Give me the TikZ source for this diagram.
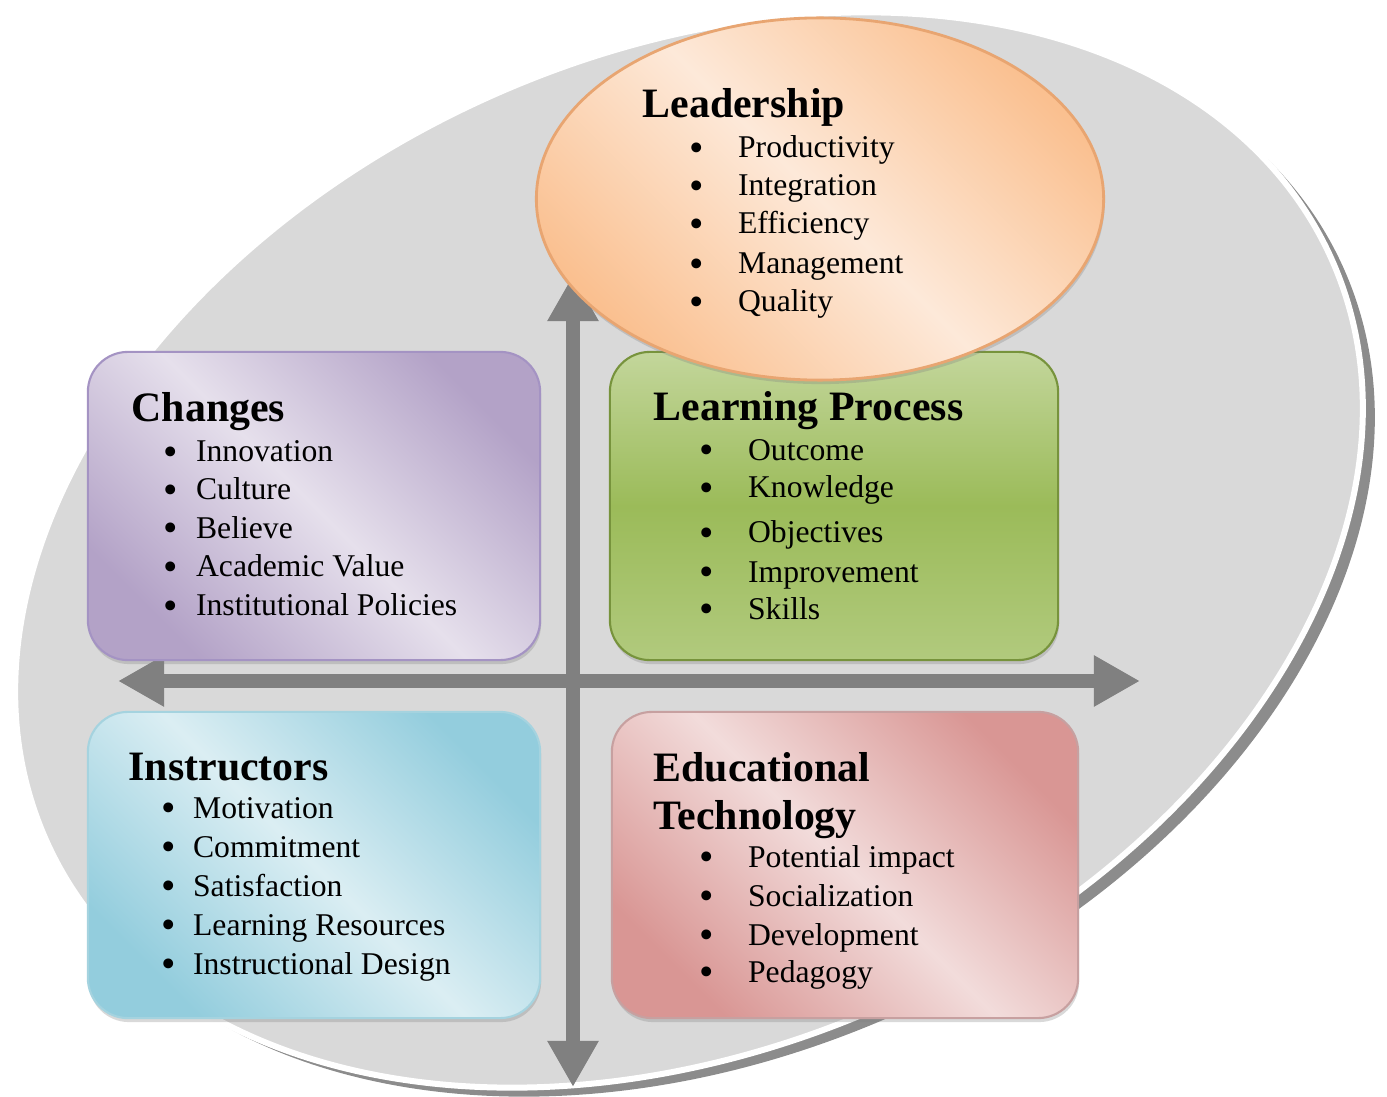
\documentclass[tikz,border=0pt]{standalone}
\usepackage{fontspec}
\setmainfont{Liberation Serif}
\usepackage{tikz}
\usetikzlibrary{arrows.meta}
\usetikzlibrary{shapes.geometric}
\usetikzlibrary{shadows}

\definecolor{bggray}{HTML}{D9D9D9}
\definecolor{rimgray}{HTML}{8C8C8C}
\definecolor{axisgray}{HTML}{808080}
\definecolor{purpleDark}{HTML}{B3A2C7}
\definecolor{purpleLight}{HTML}{E6E0EC}
\definecolor{purpleLine}{HTML}{A493C3}
\definecolor{greenTop}{HTML}{C3D69B}
\definecolor{greenBottom}{HTML}{9BBB59}
\definecolor{greenLine}{HTML}{77933C}
\definecolor{blueDark}{HTML}{93CDDD}
\definecolor{blueLight}{HTML}{DBEEF3}
\definecolor{blueLine}{HTML}{A5D3DF}
\definecolor{redDark}{HTML}{D99694}
\definecolor{redLight}{HTML}{F2DCDB}
\definecolor{redLine}{HTML}{C7A0A0}
\definecolor{orangeDark}{HTML}{FAC090}
\definecolor{orangeLight}{HTML}{FDE9D9}
\definecolor{orangeLine}{HTML}{E8A571}

\newcommand{\listbullet}{\raisebox{-0.12em}{\scalebox{1.3}{\textbullet}}}

\begin{document}
\begin{tikzpicture}[x=0.01cm,y=-0.01cm,
        box/.style={rectangle,rounded corners=0.4cm,line width=0.6pt,inner sep=0pt,
            drop shadow={shadow xshift=0.01cm,shadow yshift=-0.04cm,opacity=0.3}},
        headtxt/.style={anchor=base west,inner sep=0pt,font=\fontsize{11.9}{14}\selectfont\bfseries},
        listitem/.style={anchor=base west,inner sep=0pt,font=\fontsize{9}{11}\selectfont},
        axisarrow/.style={axisgray,line width=0.14cm,
            {Triangle[length=0.46cm,width=0.48cm]}-{Triangle[length=0.46cm,width=0.48cm]}}]
                \useasboundingbox (0,0) rectangle (1387,1097);

                % background disc with its rim
                \fill[rimgray,rotate around={24.6:(701,559)}] (701,559) ellipse [x radius=7.05cm,y radius=4.95cm];
                \filldraw[fill=bggray,draw=white,line width=0.06cm,rotate around={24.6:(689,550)}]
                    (689,550) ellipse [x radius=7.05cm,y radius=4.95cm];

                % the two axes
                \coordinate (axisL) at (118,681);
                \coordinate (axisR) at (1140,681);
                \coordinate (axisT) at (573,275);
                \coordinate (axisB) at (573,1087);
                \draw[axisarrow] (axisL) -- (axisR);
                \draw[axisarrow] (axisT) -- (axisB);

                % the four boxes
                \node[box,minimum width=4.52cm,minimum height=3.08cm,draw=purpleLine,
                    top color=purpleDark,bottom color=purpleDark,middle color=purpleLight,shading angle=-45]
                    (changes) at (314,506) {};
                \node[box,minimum width=4.48cm,minimum height=3.08cm,draw=greenLine,
                    top color=greenTop,bottom color=greenTop!55!greenBottom,middle color=greenBottom]
                    (learning) at (834,506) {};
                \node[box,minimum width=4.52cm,minimum height=3.06cm,draw=blueLine,
                    top color=blueDark,bottom color=blueDark,middle color=blueLight,shading angle=-45]
                    (instructors) at (314,865) {};
                \node[box,minimum width=4.66cm,minimum height=3.06cm,draw=redLine,
                    top color=redDark,bottom color=redDark,middle color=redLight,shading angle=-45]
                    (edtech) at (845,865) {};

                % leadership on top
                \node[ellipse,minimum width=5.67cm,minimum height=3.62cm,inner sep=0pt,draw=orangeLine,line width=0.8pt,
                    top color=orangeDark,bottom color=orangeDark,middle color=orangeLight,shading angle=-45,
                    drop shadow={shadow xshift=0.01cm,shadow yshift=-0.04cm,opacity=0.3}]
                    (leadership) at (820,199) {};

                \node[headtxt] (leadHead) at (642,118) {Leadership};
                \node[listitem] (lead1) at (689,158) {\listbullet\hspace{0.34cm}Productivity};
                \node[listitem] (lead2) at (689,196) {\listbullet\hspace{0.34cm}Integration};
                \node[listitem] (lead3) at (689,234) {\listbullet\hspace{0.34cm}Efficiency};
                \node[listitem] (lead4) at (689,274) {\listbullet\hspace{0.34cm}Management};
                \node[listitem] (lead5) at (689,312) {\listbullet\hspace{0.34cm}Quality};

                \node[headtxt] (chgHead) at (131,422) {Changes};
                \node[listitem] (chg1) at (163,462) {\listbullet\hspace{0.18cm}Innovation};
                \node[listitem] (chg2) at (163,500) {\listbullet\hspace{0.18cm}Culture};
                \node[listitem] (chg3) at (163,538) {\listbullet\hspace{0.18cm}Believe};
                \node[listitem] (chg4) at (163,577) {\listbullet\hspace{0.18cm}Academic Value};
                \node[listitem] (chg5) at (163,616) {\listbullet\hspace{0.18cm}Institutional Policies};

                \node[headtxt] (lrnHead) at (653,421) {Learning Process};
                \node[listitem] (lrn1) at (699,460) {\listbullet\hspace{0.34cm}Outcome};
                \node[listitem] (lrn2) at (699,498) {\listbullet\hspace{0.34cm}Knowledge};
                \node[listitem] (lrn3) at (699,543) {\listbullet\hspace{0.34cm}Objectives};
                \node[listitem] (lrn4) at (699,582) {\listbullet\hspace{0.34cm}Improvement};
                \node[listitem] (lrn5) at (699,619) {\listbullet\hspace{0.34cm}Skills};

                \node[headtxt] (insHead) at (128,780) {Instructors};
                \node[listitem] (ins1) at (161,818) {\listbullet\hspace{0.17cm}Motivation};
                \node[listitem] (ins2) at (161,857) {\listbullet\hspace{0.17cm}Commitment};
                \node[listitem] (ins3) at (161,896) {\listbullet\hspace{0.17cm}Satisfaction};
                \node[listitem] (ins4) at (161,935) {\listbullet\hspace{0.17cm}Learning Resources};
                \node[listitem] (ins5) at (161,974) {\listbullet\hspace{0.17cm}Instructional Design};

                \node[headtxt] (eduHead) at (653,781) {Educational};
                \node[headtxt] (eduHead2) at (653,829) {Technology};
                \node[listitem] (edu1) at (699,867) {\listbullet\hspace{0.34cm}Potential impact};
                \node[listitem] (edu2) at (699,906) {\listbullet\hspace{0.34cm}Socialization};
                \node[listitem] (edu3) at (699,945) {\listbullet\hspace{0.34cm}Development};
                \node[listitem] (edu4) at (699,982) {\listbullet\hspace{0.34cm}Pedagogy};
            \end{tikzpicture}
\end{document}
